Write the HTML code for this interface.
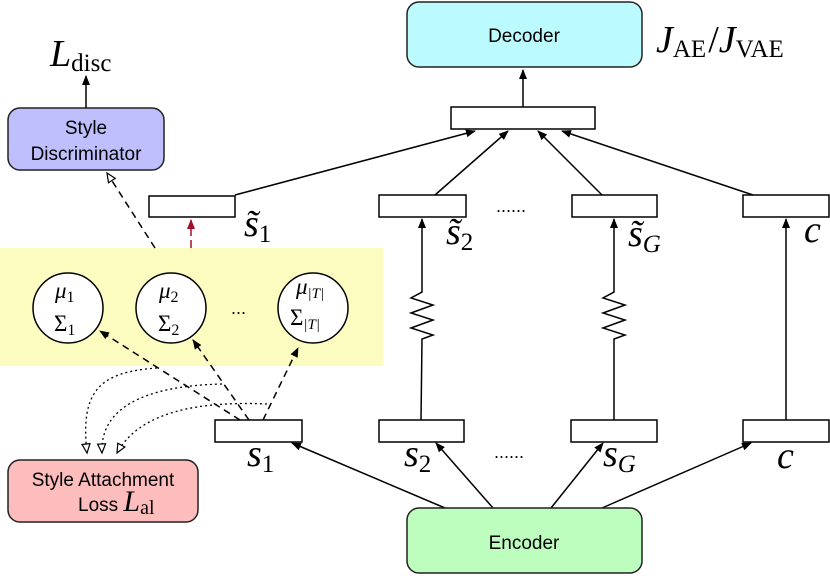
<!DOCTYPE html>
<html><head><meta charset="utf-8"><style>
html,body{margin:0;padding:0;background:#fff}
svg{display:block}
.sans{font-family:"Liberation Sans",Arial,sans-serif;font-size:19px}
.m{font-family:"Liberation Serif",serif;font-style:italic}
.r{font-family:"Liberation Serif",serif;font-style:normal}
</style></head><body>
<svg width="830" height="576" viewBox="0 0 830 576" xmlns="http://www.w3.org/2000/svg">
<defs>
<marker id="a" markerWidth="10" markerHeight="10" refX="9" refY="5" orient="auto" markerUnits="userSpaceOnUse"><path d="M0,1 L10,5 L0,9 z" fill="#000"/></marker>
<marker id="ar" markerWidth="10" markerHeight="10" refX="9" refY="5" orient="auto" markerUnits="userSpaceOnUse"><path d="M0,1 L10,5 L0,9 z" fill="#a0102a"/></marker>
<marker id="h" markerWidth="12" markerHeight="12" refX="10" refY="5" orient="auto" markerUnits="userSpaceOnUse"><path d="M1,1 L10,5 L1,9 z" fill="#fff" stroke="#000" stroke-width="1.2"/></marker>
</defs>
<rect x="0" y="248" width="383" height="118" fill="#fdfcc0"/>
<rect x="407" y="2" width="235" height="65" rx="12" fill="#bbfbfd" stroke="#222" stroke-width="1.5"/>
<text x="524" y="42" class="sans" text-anchor="middle">Decoder</text>
<text x="656" y="52" class="m" font-size="38">J<tspan class="r" font-size="25" dy="5">AE</tspan><tspan class="r" dy="-5" dx="2">/</tspan>J<tspan class="r" font-size="25" dy="5">VAE</tspan></text>
<rect x="451" y="107" width="144" height="22" fill="#fff" stroke="#000" stroke-width="1.5"/>
<line x1="523" y1="107" x2="523" y2="70" stroke="#000" stroke-width="1.5" marker-end="url(#a)"/>
<rect x="8" y="108" width="156" height="62" rx="12" fill="#bfbffd" stroke="#222" stroke-width="1.5"/>
<text x="86" y="134" class="sans" text-anchor="middle">Style</text>
<text x="86" y="160" class="sans" text-anchor="middle">Discriminator</text>
<line x1="86" y1="108" x2="86" y2="76" stroke="#000" stroke-width="1.5" marker-end="url(#a)"/>
<text x="50" y="66" class="m" font-size="38">L<tspan class="r" font-size="25" dy="5">disc</tspan></text>
<g fill="#fff" stroke="#000" stroke-width="1.5">
<rect x="149" y="196" width="86" height="21"/>
<rect x="379" y="195" width="87" height="22"/>
<rect x="572" y="195" width="85" height="22"/>
<rect x="743" y="195" width="86" height="22"/>
<rect x="215" y="420" width="87" height="22"/>
<rect x="379" y="420" width="85" height="22"/>
<rect x="571" y="420" width="86" height="22"/>
<rect x="743" y="420" width="86" height="22"/>
</g>
<g stroke="#000" stroke-width="1.5" fill="none">
<line x1="235" y1="195" x2="475" y2="131" marker-end="url(#a)"/>
<line x1="435" y1="195" x2="508" y2="131" marker-end="url(#a)"/>
<line x1="602" y1="195" x2="538" y2="131" marker-end="url(#a)"/>
<line x1="753" y1="195" x2="562" y2="131" marker-end="url(#a)"/>
<path d="M421,420 L422,339 L433,335 L411,328 L433,320 L411,313 L433,305 L411,298 L422,292 L422,219" marker-end="url(#a)"/>
<path d="M614,420 L614,339 L625,335 L603,328 L625,320 L603,313 L625,305 L603,298 L614,292 L614,219" marker-end="url(#a)"/>
<line x1="786" y1="420" x2="786" y2="219" marker-end="url(#a)"/>
<line x1="445" y1="508" x2="292" y2="443" marker-end="url(#a)"/>
<line x1="493" y1="508" x2="436" y2="443" marker-end="url(#a)"/>
<line x1="551" y1="508" x2="603" y2="443" marker-end="url(#a)"/>
<line x1="602" y1="508" x2="751" y2="443" marker-end="url(#a)"/>
</g>
<line x1="191" y1="248" x2="191" y2="220" stroke="#a0102a" stroke-width="1.5" stroke-dasharray="8,4" marker-end="url(#ar)"/>
<line x1="155" y1="248" x2="107" y2="173" stroke="#000" stroke-width="1.5" stroke-dasharray="7,5" marker-end="url(#h)"/>
<g class="m" font-size="38">
<text x="244" y="236">s̃<tspan class="r" font-size="25" dy="6">1</tspan></text>
<text x="446" y="244">s̃<tspan class="r" font-size="25" dy="6">2</tspan></text>
<text x="628" y="246">s̃<tspan font-size="25" dy="6">G</tspan></text>
<text x="804" y="242">c</text>
<text x="247" y="466">s<tspan class="r" font-size="25" dy="6">1</tspan></text>
<text x="404" y="466">s<tspan class="r" font-size="25" dy="6">2</tspan></text>
<text x="603" y="466">s<tspan font-size="25" dy="6">G</tspan></text>
<text x="777" y="468">c</text>
</g>
<text x="496" y="212" font-family="Liberation Sans" font-size="18">......</text>
<text x="494" y="458" font-family="Liberation Sans" font-size="18">......</text>
<g fill="#fff" stroke="#000" stroke-width="1.5">
<circle cx="68" cy="308" r="35"/><circle cx="171" cy="308" r="35"/><circle cx="313" cy="308" r="35"/>
</g>
<g class="m" font-size="23">
<text x="55" y="298">μ<tspan class="r" font-size="16" dy="4">1</tspan></text>
<text x="54" y="331" class="r">Σ<tspan font-size="16" dy="4">1</tspan></text>
<text x="159" y="298">μ<tspan class="r" font-size="16" dy="4">2</tspan></text>
<text x="158" y="331" class="r">Σ<tspan font-size="16" dy="4">2</tspan></text>
<text x="296" y="294">μ<tspan font-size="15" dy="4">|T|</tspan></text>
<text x="290" y="325" class="r">Σ<tspan font-size="15" class="m" dy="4">|T|</tspan></text>
</g>
<text x="231" y="314" font-family="Liberation Sans" font-size="18">...</text>
<g stroke="#000" stroke-width="1.5" stroke-dasharray="7,5" fill="none">
<line x1="240" y1="420" x2="100" y2="331" marker-end="url(#a)"/>
<line x1="249" y1="420" x2="193" y2="340" marker-end="url(#a)"/>
<line x1="263" y1="420" x2="298" y2="348" marker-end="url(#a)"/>
</g>
<g stroke="#000" stroke-width="1.3" stroke-dasharray="2,3" fill="none">
<path d="M157,368 C100,372 80,390 87,453" marker-end="url(#h)"/>
<path d="M222,384 C140,386 100,410 102,453" marker-end="url(#h)"/>
<path d="M267,404 C180,400 135,420 117,453" marker-end="url(#h)"/>
</g>
<rect x="8" y="460" width="190" height="62" rx="12" fill="#fdbdbd" stroke="#222" stroke-width="1.5"/>
<text x="103" y="486" class="sans" text-anchor="middle">Style Attachment</text>
<text x="78" y="511" class="sans">Loss <tspan class="m" font-family="Liberation Serif" font-size="30">L</tspan><tspan font-family="Liberation Serif" font-size="20" dy="3">al</tspan></text>
<rect x="407" y="508" width="235" height="65" rx="12" fill="#bdfdbd" stroke="#222" stroke-width="1.5"/>
<text x="524" y="549" class="sans" text-anchor="middle">Encoder</text>
</svg>
</body></html>
